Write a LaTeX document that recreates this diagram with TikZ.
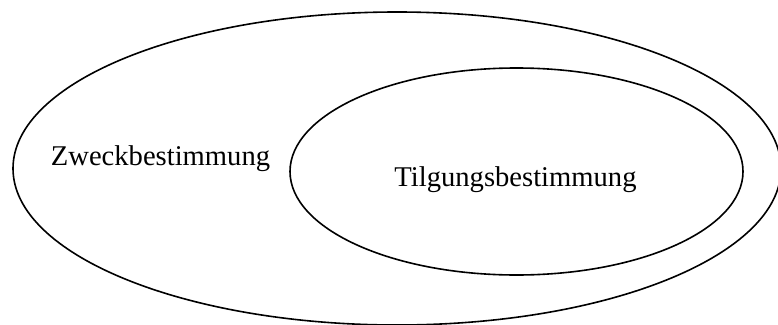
\documentclass[tikz,border=0pt]{standalone}
\usepackage{fontspec}
\setmainfont{Liberation Serif}
\begin{document}
\begin{tikzpicture}[x=1pt,y=-1pt,
  setline/.style={line width=1.6pt, black},
  setlabel/.style={anchor=base, inner sep=0pt, font=\fontsize{28.6}{34}\selectfont}]
  \useasboundingbox (0,0) rectangle (778,324);
  \clip (0,0) rectangle (778,324);
  % outer set and the subset inside it
  \draw[setline] (397,168.5) ellipse [x radius=384, y radius=156.5];
  \draw[setline] (516.5,171.5) ellipse [x radius=226.5, y radius=103.5];
  \node[setlabel] (zweck) at (160.5,165) {Zweckbestimmung};
  \node[setlabel] (tilgung) at (515.5,186) {Tilgungsbestimmung};
\end{tikzpicture}
\end{document}
